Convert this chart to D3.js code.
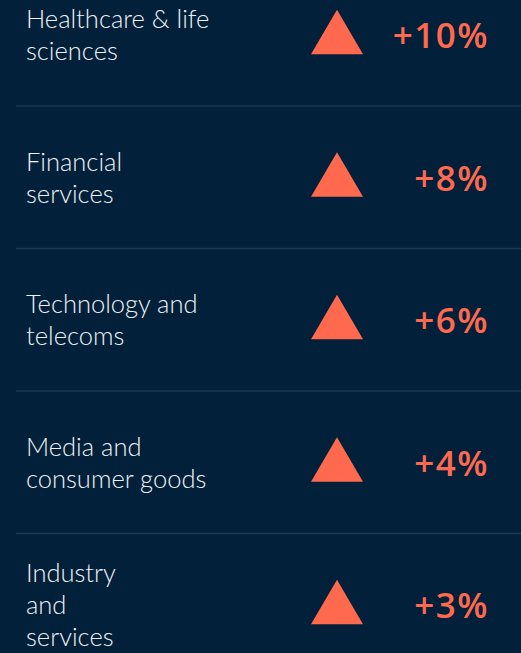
<!DOCTYPE html>
<html>
<head>
<meta charset="utf-8">
<script src="https://cdn.jsdelivr.net/npm/d3@7"></script>
<style>
  html, body { margin: 0; padding: 0; background: #022039; }
  svg { display: block; }
</style>
</head>
<body>
<div id="chart"></div>
<script>
// Sectors and their change
var sectors = ['Healthcare & life sciences', 'Financial services', 'Technology and telecoms', 'Media and consumer goods', 'Industry and services']
var sectorLines = [
  ['Healthcare & life', 'sciences'],
  ['Financial', 'services'],
  ['Technology and', 'telecoms'],
  ['Media and', 'consumer goods'],
  ['Industry', 'and', 'services']
]
var changes = [10, 8, 6, 4, 3]

var width = 521
var height = 653

var svg = d3
  .select('#chart')
  .append('svg')
  .attr('width', width)
  .attr('height', height)

svg.append('rect').attr('width', width).attr('height', height).attr('fill', '#022039')

// one band per row
var yPositionScale = d3
  .scaleBand()
  .domain(sectors)
  .range([-36.5, -36.5 + 142.5 * sectors.length])

var rows = sectors.map(function(s, i) {
  return { name: s, lines: sectorLines[i], value: changes[i] }
})

var row = svg
  .selectAll('.row')
  .data(rows)
  .enter()
  .append('g')
  .attr('class', 'row')
  .attr('transform', function(d) {
    return 'translate(0,' + (yPositionScale(d.name) + yPositionScale.bandwidth() / 2) + ')'
  })

// separators below each row (except last)
row
  .filter(function(d, i) { return i < rows.length - 1 })
  .append('line')
  .attr('x1', 16)
  .attr('x2', width)
  .attr('y1', yPositionScale.bandwidth() / 2)
  .attr('y2', yPositionScale.bandwidth() / 2)
  .attr('stroke', '#1f3550')
  .attr('stroke-width', 1.5)

// labels
row
  .append('text')
  .attr('font-family', 'Lato, sans-serif')
  .attr('font-weight', 300)
  .attr('font-size', 25.5)
  .attr('fill', '#eef2f6')
  .each(function(d) {
    var t = d3.select(this)
    var first = 9.5 - (d.lines.length - 1) * 16
    d.lines.forEach(function(l, j) {
      t.append('tspan')
        .attr('x', 26)
        .attr('y', first + j * 32)
        .text(l)
    })
  })

// triangles
row
  .append('path')
  .attr('d', 'M337,-25L363,19.5L311,19.5Z')
  .attr('fill', '#ff6a4f')

// values
row
  .append('text')
  .attr('x', 489)
  .attr('y', 13.5)
  .attr('text-anchor', 'end')
  .attr('font-family', 'Open Sans, sans-serif')
  .attr('font-weight', 600)
  .attr('font-size', 35)
  .attr('letter-spacing', 1.5)
  .attr('fill', '#ff6a4f')
  .text(function(d) { return '+' + d.value + '%' })
</script>
</body>
</html>
